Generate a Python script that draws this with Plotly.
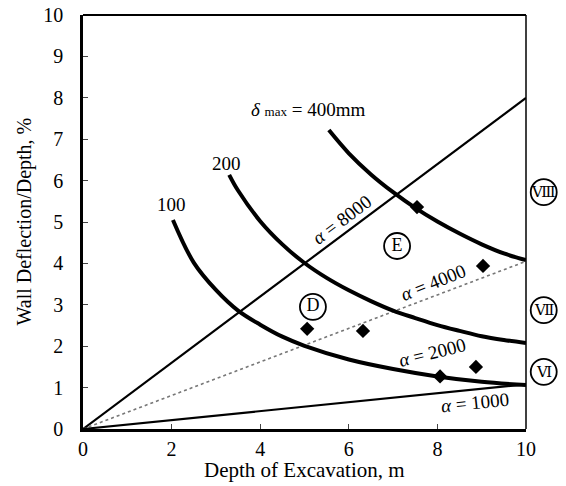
import plotly.graph_objects as go

# Straight lines of constant alpha (from origin)
alpha_labels = ["α = 8000", "α = 4000", "α = 1000"]
alpha_x = [[0, 10], [0, 10], [0, 10]]
alpha_y = [[0, 8.0], [0, 4.05], [0, 1.08]]

# Curves of constant maximum wall deflection
curve_names = ["400", "200", "100"]
c400_x = [5.55, 6.0, 6.5, 7.0, 7.5, 8.0, 8.5, 9.0, 9.5, 10.0]
c400_y = [7.22, 6.66, 6.15, 5.72, 5.34, 5.01, 4.72, 4.46, 4.24, 4.08]
c200_x = [3.3, 3.5, 4.0, 4.5, 5.0, 5.5, 6.0, 6.5, 7.0, 7.5, 8.0, 8.5, 9.0, 9.5, 10.0]
c200_y = [6.14, 5.76, 5.02, 4.46, 4.01, 3.65, 3.35, 3.09, 2.86, 2.68, 2.51, 2.37, 2.24, 2.15, 2.08]
c100_x = [2.03, 2.5, 3.0, 3.5, 4.0, 4.5, 5.0, 6.0, 7.0, 8.0, 9.0, 10.0]
c100_y = [5.05, 4.02, 3.36, 2.86, 2.52, 2.23, 2.01, 1.68, 1.45, 1.27, 1.14, 1.06]

# Measured case data points
pts_x = [5.06, 6.32, 7.54, 9.03, 8.06, 8.87]
pts_y = [2.42, 2.37, 5.36, 3.94, 1.27, 1.50]

# Circled zone labels inside the plot
zone_text = ["D", "E"]
zone_x = [5.19, 7.09]
zone_y = [2.95, 4.42]

# Circled zone labels to the right of the plot (paper x, data y)
side_text = ["Ⅷ", "Ⅶ", "Ⅵ"]
side_y = [5.72, 2.87, 1.38]
side_xpaper = 1.04

x_ticks = [0, 2, 4, 6, 8, 10]
y_ticks = [0, 1, 2, 3, 4, 5, 6, 7, 8, 9, 10]

x_title = "Depth of Excavation, m"
y_title = "Wall Deflection/Depth, %"

FONT = "Liberation Serif"

fig = go.Figure()

# alpha lines
fig.add_trace(go.Scatter(x=alpha_x[0], y=alpha_y[0], mode="lines",
                         line=dict(color="black", width=2.2), showlegend=False))
fig.add_trace(go.Scatter(x=alpha_x[1], y=alpha_y[1], mode="lines",
                         line=dict(color="#777777", width=1.6, dash="dot"), showlegend=False))
fig.add_trace(go.Scatter(x=alpha_x[2], y=alpha_y[2], mode="lines",
                         line=dict(color="black", width=2.2), showlegend=False))

# deflection curves
for cx, cy in [(c400_x, c400_y), (c200_x, c200_y), (c100_x, c100_y)]:
    fig.add_trace(go.Scatter(x=cx, y=cy, mode="lines", line=dict(color="black", width=4, shape="spline"),
                             showlegend=False))

# data points
fig.add_trace(go.Scatter(x=pts_x, y=pts_y, mode="markers",
                         marker=dict(symbol="diamond", size=11, color="black"), showlegend=False))

# zone circles inside
fig.add_trace(go.Scatter(x=zone_x, y=zone_y, mode="markers+text", text=zone_text,
                         textposition="middle center",
                         textfont=dict(family=FONT, size=18, color="black"),
                         marker=dict(symbol="circle-open", size=26, color="black", line=dict(width=1.8)),
                         showlegend=False))

# zone circles outside (right side)
for t, yv in zip(side_text, side_y):
    fig.add_shape(type="circle", xref="paper", yref="y", xsizemode="pixel", ysizemode="pixel",
                  xanchor=side_xpaper, yanchor=yv, x0=-13, x1=13, y0=-13, y1=13,
                  line=dict(color="black", width=1.8))
    fig.add_annotation(xref="paper", yref="y", x=side_xpaper, y=yv, text=t, showarrow=False,
                       xanchor="center", yanchor="middle",
                       font=dict(family="DejaVu Serif", size=15, color="black"))

# text annotations
ann = [
    dict(x=1.99, y=5.42, text="100", textangle=0),
    dict(x=3.23, y=6.42, text="200", textangle=0),
    dict(x=5.08, y=7.72, text="<i>δ</i> <span style='font-size:13px'>max</span> = 400mm", textangle=0),
    dict(x=5.85, y=5.05, text="<i>α</i> = 8000", textangle=-37),
    dict(x=7.9, y=3.55, text="<i>α</i> = 4000", textangle=-22),
    dict(x=7.88, y=1.86, text="<i>α</i> = 2000", textangle=-14),
    dict(x=8.85, y=0.63, text="<i>α</i> = 1000", textangle=-6),
]
for a in ann:
    fig.add_annotation(x=a["x"], y=a["y"], text=a["text"], textangle=a["textangle"],
                       showarrow=False, font=dict(family=FONT, size=19, color="black"))

# axis titles
fig.add_annotation(xref="paper", yref="paper", x=0.5, y=0, xanchor="center", yanchor="top",
                   yshift=-27, text=x_title, showarrow=False,
                   font=dict(family=FONT, size=21, color="black"))
fig.add_annotation(xref="paper", yref="paper", x=0, y=0.5, xanchor="right", yanchor="middle",
                   xshift=-46, textangle=-90, text=y_title, showarrow=False,
                   font=dict(family=FONT, size=20, color="black"))

# top and right frame (thin)
fig.add_shape(type="line", xref="paper", yref="paper", x0=0, x1=1, y0=1, y1=1,
              line=dict(color="black", width=2))
fig.add_shape(type="line", xref="paper", yref="paper", x0=1, x1=1, y0=0, y1=1,
              line=dict(color="black", width=1.5))

fig.update_layout(
    width=566, height=486,
    margin=dict(l=83, r=40, t=15, b=57),
    paper_bgcolor="white", plot_bgcolor="white",
    font=dict(family=FONT, color="black"),
    xaxis=dict(range=[0, 10], tickvals=x_ticks, ticks="inside", ticklen=5, tickwidth=1,
               showgrid=False, zeroline=False, showline=True, linewidth=3, linecolor="black",
               automargin=False,
               tickfont=dict(family=FONT, size=20, color="black")),
    yaxis=dict(range=[0, 10], tickvals=y_ticks, ticks="inside", ticklen=5, tickwidth=1,
               showgrid=False, zeroline=False, showline=True, linewidth=2.5, linecolor="black",
               ticklabelstandoff=13, automargin=False,
               tickfont=dict(family=FONT, size=20, color="black")),
)

fig.write_html("out.html")
